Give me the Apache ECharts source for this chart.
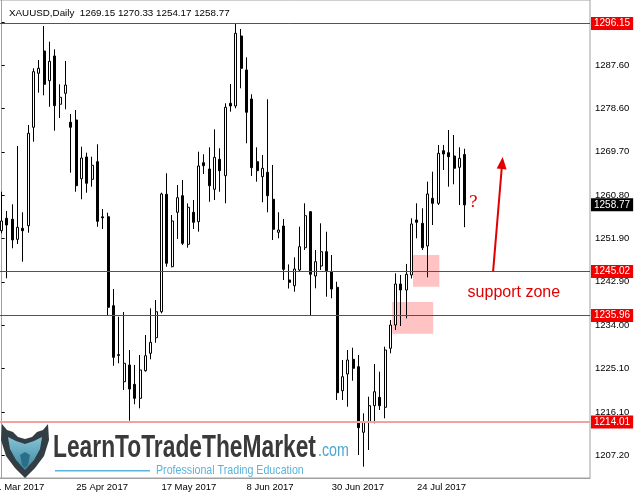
<!DOCTYPE html>
<html><head><meta charset="utf-8">
<script src="https://cdn.jsdelivr.net/npm/echarts@6/dist/echarts.min.js"></script>
<style>html,body{margin:0;padding:0;background:#fff;overflow:hidden;width:635px;height:494px}
#c{position:absolute;left:-12px;top:0;width:647px;height:494px}</style>
</head><body><div id="c"></div>
<script>
const symbolName = 'XAUUSD,Daily';
const dates = ['31 Mar 2017',
 '3 Apr 2017','4 Apr 2017','5 Apr 2017','6 Apr 2017','7 Apr 2017',
 '10 Apr 2017','11 Apr 2017','12 Apr 2017','13 Apr 2017',
 '17 Apr 2017','18 Apr 2017','19 Apr 2017','20 Apr 2017','21 Apr 2017',
 '24 Apr 2017','25 Apr 2017','26 Apr 2017','27 Apr 2017','28 Apr 2017',
 '1 May 2017','2 May 2017','3 May 2017','4 May 2017','5 May 2017',
 '8 May 2017','9 May 2017','10 May 2017','11 May 2017','12 May 2017',
 '15 May 2017','16 May 2017','17 May 2017','18 May 2017','19 May 2017',
 '22 May 2017','23 May 2017','24 May 2017','25 May 2017','26 May 2017',
 '29 May 2017','30 May 2017','31 May 2017','1 Jun 2017','2 Jun 2017',
 '5 Jun 2017','6 Jun 2017','7 Jun 2017','8 Jun 2017','9 Jun 2017',
 '12 Jun 2017','13 Jun 2017','14 Jun 2017','15 Jun 2017','16 Jun 2017',
 '19 Jun 2017','20 Jun 2017','21 Jun 2017','22 Jun 2017','23 Jun 2017',
 '26 Jun 2017','27 Jun 2017','28 Jun 2017','29 Jun 2017','30 Jun 2017',
 '3 Jul 2017','4 Jul 2017','5 Jul 2017','6 Jul 2017','7 Jul 2017',
 '10 Jul 2017','11 Jul 2017','12 Jul 2017','13 Jul 2017','14 Jul 2017',
 '17 Jul 2017','18 Jul 2017','19 Jul 2017','20 Jul 2017','21 Jul 2017',
 '24 Jul 2017','25 Jul 2017','26 Jul 2017','27 Jul 2017','28 Jul 2017',
 '31 Jul 2017','1 Aug 2017','2 Aug 2017','3 Aug 2017','4 Aug 2017'];
const candleStart = 2;      // first candle is on '4 Apr 2017'
const futureSlots = 23;     // empty right shift area
const opens = [1253.45,1256.00,1255.80,1251.67,1253.94,1254.48,1274.76,1285.89,1290.48,1284.36,
 1289.45,1279.50,1281.76,1275.79,1276.26,1264.16,1268.64,1264.04,1267.67,1256.30,
 1256.33,1237.99,1227.90,1222.32,1225.77,1221.79,1218.90,1224.59,1228.18,1231.39,
 1236.75,1260.95,1246.03,1257.24,1260.66,1250.64,1257.24,1255.30,1267.46,1266.16,
 1261.98,1268.16,1264.78,1279.70,1279.15,1293.57,1286.57,1280.59,1267.67,1264.58,
 1265.48,1259.92,1253.12,1254.41,1243.29,1242.11,1245.35,1249.94,1257.36,1244.11,
 1246.17,1249.12,1245.00,1241.78,1220.47,1223.91,1226.94,1225.42,1211.90,1214.08,
 1217.38,1219.11,1217.05,1229.21,1234.01,1242.46,1241.22,1244.32,1255.65,1254.97,
 1250.29,1260.12,1259.09,1269.93,1269.52,1268.84,1266.51,1269.15];
const highs = [1261.48,1257.51,1258.89,1270.90,1257.24,1275.23,1286.92,1288.63,1295.63,1292.40,
 1290.83,1283.62,1288.42,1277.50,1278.32,1270.76,1269.52,1268.70,1271.25,1257.92,
 1257.16,1241.43,1235.72,1236.69,1228.86,1225.77,1227.83,1231.95,1237.45,1239.16,
 1261.28,1265.28,1256.68,1262.86,1263.90,1259.09,1259.77,1269.73,1269.19,1270.63,
 1274.34,1270.43,1279.70,1283.68,1296.15,1295.02,1289.18,1281.56,1270.63,1269.05,
 1280.53,1266.99,1257.24,1255.86,1246.50,1247.96,1254.27,1259.09,1257.50,1249.47,
 1254.97,1253.24,1248.44,1242.93,1226.80,1228.86,1229.33,1227.83,1215.81,1219.23,
 1225.97,1224.39,1229.54,1235.04,1244.67,1244.32,1246.60,1256.00,1259.09,1258.06,
 1263.55,1265.61,1271.11,1271.11,1274.20,1273.17,1270.63,1270.33];
const lows = [1252.90,1243.64,1249.82,1250.70,1247.06,1253.03,1271.79,1281.89,1281.35,1279.00,
 1274.06,1276.67,1278.47,1265.40,1261.48,1259.92,1261.28,1262.51,1254.27,1253.80,
 1235.87,1225.62,1226.12,1220.61,1214.30,1217.67,1216.84,1224.39,1226.94,1230.36,
 1236.42,1246.03,1245.90,1251.74,1250.50,1249.94,1253.80,1253.24,1265.13,1259.42,
 1259.77,1261.48,1259.09,1277.97,1278.67,1282.79,1271.46,1264.72,1263.55,1259.30,
 1257.24,1251.53,1251.88,1243.29,1241.53,1240.87,1245.00,1249.47,1235.96,1241.57,
 1245.35,1239.84,1239.51,1218.55,1218.55,1217.17,1222.53,1207.22,1204.81,1208.25,
 1213.75,1216.49,1214.78,1228.18,1232.98,1233.80,1235.39,1243.60,1251.88,1249.47,
 1243.84,1254.62,1258.74,1265.96,1262.51,1263.01,1258.74,1254.17];
const closes = [1255.45,1254.62,1251.53,1254.15,1253.45,1273.52,1286.22,1286.92,1283.62,1288.36,
 1279.21,1280.94,1283.47,1274.76,1262.72,1268.43,1263.22,1266.93,1255.38,1256.10,
 1237.66,1227.35,1227.75,1226.12,1220.82,1218.90,1224.74,1227.68,1230.45,1236.75,
 1261.01,1246.73,1255.45,1260.25,1250.85,1258.27,1255.18,1266.78,1266.84,1262.72,
 1268.57,1265.81,1278.88,1279.15,1294.13,1286.92,1277.85,1266.43,1265.81,1266.31,
 1260.66,1253.73,1253.59,1245.49,1242.81,1245.55,1250.15,1256.54,1244.46,1247.06,
 1249.12,1245.20,1241.43,1220.06,1223.35,1226.80,1225.09,1212.84,1214.08,1217.38,
 1220.26,1217.38,1228.86,1234.01,1242.46,1241.22,1244.46,1254.83,1255.18,1249.94,
 1261.01,1259.09,1269.40,1269.25,1268.70,1266.31,1268.37,1258.77];
const yTickValues = [1207.20,1216.10,1225.10,1234.00,1242.90,1251.90,1260.80,1269.70,1278.60,1287.60,1296.50];
const resistanceLevel = 1296.15;
const supportLevels = [1245.02, 1235.96];
const lowLevel = 1214.01;
const lastPrice = closes[closes.length - 1];
const zoneBoxes = [[77.26, 1248.44, 82.2, 1241.9], [73.36, 1238.75, 81.05, 1232.22]];
const arrowPath = [[92.3, 1245.0], [94.0, 1267.4]];
const questionMark = [88.6, 1259.2];
const zoneLabel = [96.2, 1240.6];

const OX = 12; // canvas is shifted 12px left of the page
const FONT = 'Liberation Sans, Arial, sans-serif';
const categories = dates.concat(new Array(futureSlots).fill(''));
const candleData = categories.map((d, k) => {
  const i = k - candleStart;
  if (i < 0 || i >= opens.length) return '-';
  return [opens[i], closes[i], lows[i], highs[i]];
});
const labelEvery = 16;
const lastIdx = dates.length - 1;
const showLabel = (idx) => idx % labelEvery === 0 && idx <= lastIdx;
const fmt = v => Number(v).toFixed(2);
const last = opens.length - 1;
const titleText = symbolName + '  ' + [opens[last], highs[last], lows[last], closes[last]].map(fmt).join(' ');

const tag = (bg) => ({show: true, position: 'end', formatter: p => fmt(p.value), color: '#fff',
  backgroundColor: bg, fontSize: 10, fontFamily: FONT, padding: [2, 3, 1, 3], distance: 1});
const RED = '#f01010';
const lvl = (v, color, width, bg) => ({yAxis: v, lineStyle: {color: color, width: width, type: 'solid', opacity: 1}, label: tag(bg)});
const P = pts => pts.map(p => [p[0] + OX, p[1]]);

const chart = echarts.init(document.getElementById('c'), null, {renderer: 'canvas'});
chart.setOption({
  animation: false,
  backgroundColor: '#fff',
  title: {text: titleText, left: 4 + OX, top: 3,
    textStyle: {fontSize: 9.8, fontWeight: 'normal', color: '#000', fontFamily: FONT}},
  grid: {left: 0, right: 45, top: 0, bottom: 16, show: true, borderColor: '#a0a0a0', borderWidth: 1},
  xAxis: [{
    type: 'category', data: categories, boundaryGap: true,
    axisLine: {lineStyle: {color: '#a0a0a0'}},
    axisTick: {alignWithLabel: true, interval: showLabel, length: 3, lineStyle: {color: '#000'}},
    axisLabel: {interval: showLabel, align: 'left', margin: 4, fontSize: 9.5, color: '#000', fontFamily: FONT},
    splitLine: {show: false}
  }, {
    type: 'value', min: -candleStart - 0.5, max: categories.length - candleStart - 0.5, show: false
  }],
  yAxis: [{
    type: 'value', position: 'right', min: 1202.48, max: 1300.99, scale: true,
    splitLine: {show: false},
    axisLine: {show: true, lineStyle: {color: '#a0a0a0'}},
    axisTick: {show: true, customValues: yTickValues, length: 3, lineStyle: {color: '#000'}},
    axisLabel: {customValues: yTickValues, formatter: v => fmt(v), margin: 5, fontSize: 9.5, color: '#000', fontFamily: FONT}
  }],
  series: [{
    type: 'line', xAxisIndex: 1, yAxisIndex: 0, data: [], z: 1, silent: true,
    color: RED,
    markArea: {silent: true, itemStyle: {color: '#ffc3c3'},
      data: zoneBoxes.map(b => [{xAxis: b[0], yAxis: b[1]}, {xAxis: b[2], yAxis: b[3]}])},
    markPoint: {silent: true, symbol: 'rect', symbolSize: 1, itemStyle: {color: 'transparent'},
      data: [
        {coord: questionMark, label: {show: true, position: 'inside', formatter: '?', color: '#e00000', fontSize: 16, fontFamily: 'DejaVu Serif, serif'}},
        {coord: zoneLabel, label: {show: true, position: 'inside', formatter: 'support zone', color: '#e00000', fontSize: 16, fontFamily: FONT}}
      ]}
  }, {
    type: 'line', xAxisIndex: 1, yAxisIndex: 0, data: [], z: 4, silent: true,
    color: RED,
    markLine: {silent: true, symbol: 'none', lineStyle: {color: RED, width: 1, type: 'solid'},
      data: [
        lvl(resistanceLevel, RED, 1, '#f20000'),
        lvl(supportLevels[0], RED, 1, '#f20000'),
        lvl(supportLevels[1], RED, 1, '#f20000'),
        lvl(lowLevel, '#f4a0a0', 2, '#f20000'),
        {yAxis: lastPrice, lineStyle: {color: 'rgba(0,0,0,0)', width: 0}, label: tag('#000')},
        [{coord: arrowPath[0], symbol: 'none', lineStyle: {color: '#e00000', width: 2, type: 'solid'}, label: {show: false}},
         {coord: arrowPath[1], symbol: 'triangle', symbolSize: [10, 12]}]
      ]}
  }, {
    type: 'candlestick', data: candleData, barWidth: 2.5, z: 3,
    itemStyle: {color: '#fff', color0: '#000', borderColor: '#000', borderColor0: '#000', borderWidth: 1}
  }],
  graphic: [
    {type: 'polygon', z: 1, shape: {points: P([[2,424],[7,430],[13,432],[18,437],[25,439],[32,437],[37,432],[43,430],[48,424],[49,440],[44,456],[35,468],[25,478],[15,468],[6,456],[1,440]])},
      style: {fill: '#323d44'}},
    {type: 'polygon', z: 1, shape: {points: P([[8,437],[16,441],[25,444],[34,441],[42,437],[40,449],[34,460],[25,470],[16,460],[10,449]])},
      style: {fill: new echarts.graphic.LinearGradient(0, 0, 0, 1, [{offset: 0, color: '#86c3d6'}, {offset: 1, color: '#3c87a0'}])}},
    {type: 'polygon', z: 1, shape: {points: P([[20,455],[25,452],[30,455],[28,465],[25,468],[22,465]])},
      style: {fill: '#2a6f86'}},
    {type: 'text', z: 1, x: 53 + OX, y: 464, scaleX: 0.735, style: {text: 'LearnToTradeTheMarket', font: 'bold 31px ' + FONT, fill: '#3a3a3a', textVerticalAlign: 'bottom'}},
    {type: 'text', z: 1, x: 318 + OX, y: 460, scaleX: 0.75, style: {text: '.com', font: '19px ' + FONT, fill: '#4aa8d2', textVerticalAlign: 'bottom'}},
    {type: 'rect', z: 1, shape: {x: 55 + OX, y: 470, width: 95, height: 1.5}, style: {fill: '#5ab4dc'}},
    {type: 'text', z: 1, x: 156 + OX, y: 477, scaleX: 0.82, style: {text: 'Professional Trading Education', font: '13px ' + FONT, fill: '#5ab4dc', textVerticalAlign: 'bottom'}}
  ]
});
</script>
</body></html>
